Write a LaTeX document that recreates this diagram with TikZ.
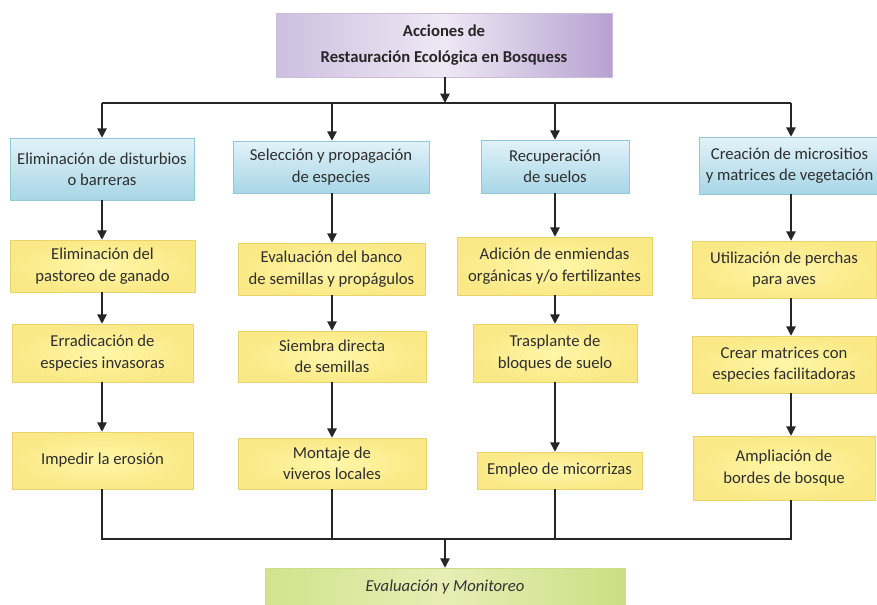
\documentclass[tikz,border=0pt]{standalone}
\usepackage{fontspec}
\setmainfont{Carlito}
\usetikzlibrary{arrows.meta}
\definecolor{txt}{HTML}{2E2E2E}
\definecolor{blueA}{HTML}{E2F2F8}
\definecolor{blueB}{HTML}{A8D6E6}
\definecolor{blueE}{HTML}{93C6D8}
\definecolor{yelA}{HTML}{FFF6A8}
\definecolor{yelB}{HTML}{FAE986}
\definecolor{yelE}{HTML}{EAD36A}
\definecolor{purL}{HTML}{CDBFE0}
\definecolor{purM}{HTML}{EEE8F4}
\definecolor{purR}{HTML}{B7A2D1}
\definecolor{purE}{HTML}{C9BCDC}
\definecolor{grnL}{HTML}{D2E38C}
\definecolor{grnM}{HTML}{E6EEB4}
\definecolor{grnR}{HTML}{CCDE84}
\tikzset{
  x=0.75pt, y=-0.75pt,
  wh/.style 2 args={minimum width=#1*0.75pt, minimum height=#2*0.75pt},
  basebox/.style={rectangle, inner sep=2pt, align=center, text=txt,
    font=\fontsize{12.5}{16}\selectfont},
  titlebox/.style={basebox, draw=purE, left color=purL, right color=purR,
    middle color=purM, text=black!85, font=\fontsize{12.5}{19.5}\selectfont\bfseries},
  bluebox/.style={basebox, draw=blueE, top color=blueA, bottom color=blueB},
  yelbox/.style={basebox, draw=yelE, inner color=yelA, outer color=yelB},
  grnbox/.style={basebox, draw=grnR, left color=grnL, right color=grnR,
    middle color=grnM, font=\fontsize{12.5}{16}\selectfont\itshape, text=black!80},
  link/.style={line width=1.1pt, black!85},
  arr/.style={link, -{Triangle[length=7pt,width=7pt]}},
}
\begin{document}
\begin{tikzpicture}
\useasboundingbox (0,0) rectangle (877,604);
\begin{scope}
\clip (0,0) rectangle (877,604);

% title
\node[titlebox, wh={336}{64}] (top) at (444,45) {Acciones de\\Restauración Ecológica en Bosquess};

% four branches
\node[bluebox, wh={184}{62}] (b1) at (102,169) {Eliminación de disturbios\\o barreras};
\node[bluebox, wh={196}{52}] (b2) at (331,167) {Selección y propagación\\de especies};
\node[bluebox, wh={148}{53}] (b3) at (555,166.5) {Recuperación\\de suelos};
\node[bluebox, wh={181}{57}] (b4) at (789.5,165.5) {Creación de micrositios\\y matrices de vegetación};

% first actions
\node[yelbox, wh={185}{52}] (y1a) at (102.5,266) {Eliminación del\\pastoreo de ganado};
\node[yelbox, wh={187}{52}] (y2a) at (331.5,269) {Evaluación del banco\\de semillas y propágulos};
\node[yelbox, wh={195}{58}] (y3a) at (554.5,266) {Adición de enmiendas\\orgánicas y/o fertilizantes};
\node[yelbox, wh={184}{57}] (y4a) at (784,269.5) {Utilización de perchas\\para aves};

% second actions
\node[yelbox, wh={181}{58}] (y1b) at (102.5,353) {Erradicación de\\especies invasoras};
\node[yelbox, wh={188}{51}] (y2b) at (332,356.5) {Siembra directa\\de semillas};
\node[yelbox, wh={164}{58}] (y3b) at (555,353) {Trasplante de\\bloques de suelo};
\node[yelbox, wh={184}{57}] (y4b) at (784,364.5) {Crear matrices con\\especies facilitadoras};

% third actions
\node[yelbox, wh={181}{57}] (y1c) at (102.5,460.5) {Impedir la erosión};
\node[yelbox, wh={188}{51}] (y2c) at (332,463.5) {Montaje de\\viveros locales};
\node[yelbox, wh={165}{37}] (y3c) at (559.5,470.5) {Empleo de micorrizas};
\node[yelbox, wh={182}{64}] (y4c) at (784,468) {Ampliación de\\bordes de bosque};

% final stage
\node[grnbox, wh={360}{38}] (ev) at (445,587) {Evaluación y Monitoreo};

% upper distribution bar
\coordinate (hub) at (445,103);
\coordinate (h1) at (102,103);
\coordinate (h2) at (332,103);
\coordinate (h3) at (555,103);
\coordinate (h4) at (791,103);
\draw[arr] (top.south -| hub) -- (hub);
\draw[link] (h1) -- (h4);
\draw[arr] (h1) -- (h1 |- b1.north);
\draw[arr] (h2) -- (h2 |- b2.north);
\draw[arr] (h3) -- (h3 |- b3.north);
\draw[arr] (h4) -- (h4 |- b4.north);

% vertical chains
\draw[arr] (h1 |- b1.south) -- (h1 |- y1a.north);
\draw[arr] (h1 |- y1a.south) -- (h1 |- y1b.north);
\draw[arr] (h1 |- y1b.south) -- (h1 |- y1c.north);
\draw[arr] (h2 |- b2.south) -- (h2 |- y2a.north);
\draw[arr] (h2 |- y2a.south) -- (h2 |- y2b.north);
\draw[arr] (h2 |- y2b.south) -- (h2 |- y2c.north);
\draw[arr] (h3 |- b3.south) -- (h3 |- y3a.north);
\draw[arr] (h3 |- y3a.south) -- (h3 |- y3b.north);
\draw[arr] (h3 |- y3b.south) -- (h3 |- y3c.north);
\draw[arr] (h4 |- b4.south) -- (h4 |- y4a.north);
\draw[arr] (h4 |- y4a.south) -- (h4 |- y4b.north);
\draw[arr] (h4 |- y4b.south) -- (h4 |- y4c.north);

% lower collecting bar
\coordinate (l1) at (102,539);
\coordinate (l2) at (332,539);
\coordinate (l3) at (555,539);
\coordinate (l4) at (791,539);
\coordinate (lhub) at (445,539);
\draw[link] (h1 |- y1c.south) -- (l1) -- (l4) -- (h4 |- y4c.south);
\draw[link] (h2 |- y2c.south) -- (l2);
\draw[link] (h3 |- y3c.south) -- (l3);
\draw[arr] (lhub) -- (ev.north);
\end{scope}
\end{tikzpicture}
\end{document}
